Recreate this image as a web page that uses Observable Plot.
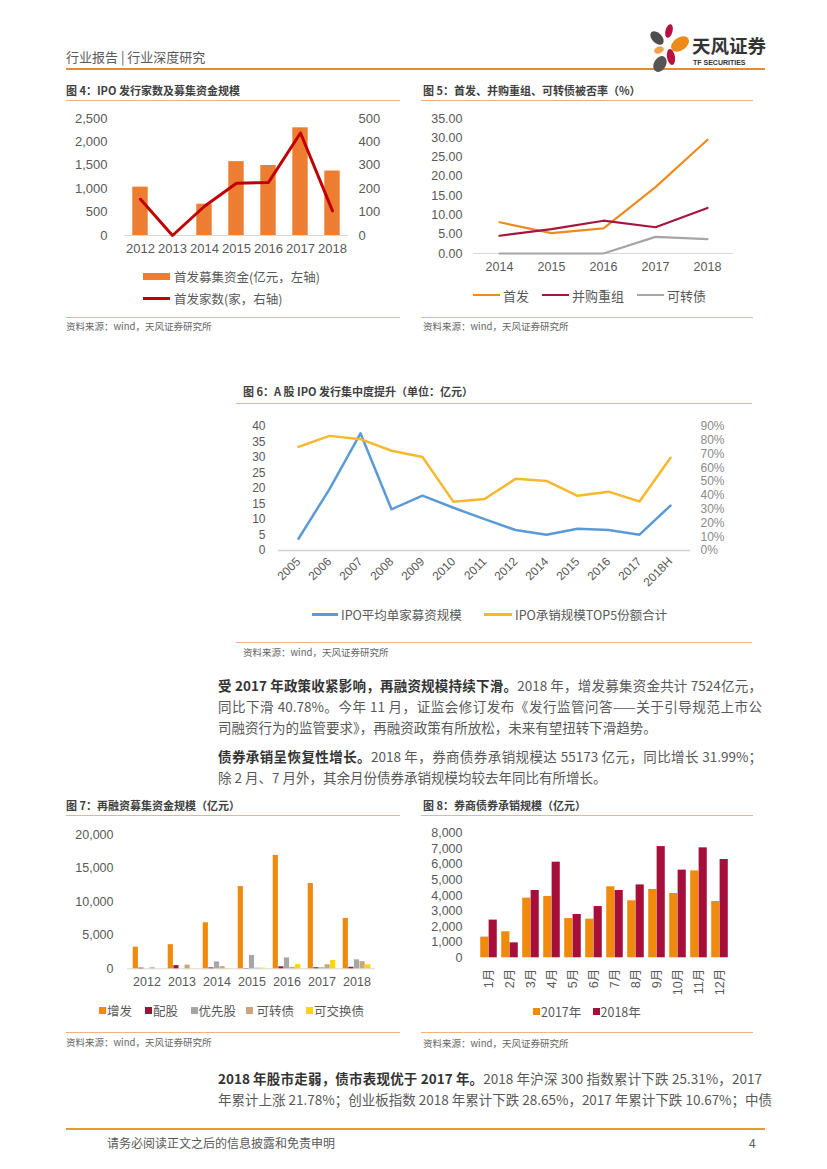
<!DOCTYPE html>
<html><head><meta charset="utf-8">
<script src="https://cdn.jsdelivr.net/npm/d3@7"></script>
<script src="https://cdn.jsdelivr.net/npm/@observablehq/plot@0.6"></script>
<style>
body{margin:0;background:#fff;}
#page{position:relative;width:827px;height:1169px;overflow:hidden;background:#fff;font-family:"Noto Sans CJK SC","Liberation Sans",sans-serif;}
.ttl{font-size:11px;font-weight:bold;color:#404040;}
.src{font-size:9.5px;color:#666;}
.p{font-size:13.5px;color:#595959;}
.p b{color:#333;}
.j{width:544px;text-align:justify;text-align-last:justify;}
.lg{font-size:12.5px;color:#595959;}
</style></head><body><div id="page"></div>
<script>
// ---------- data ----------
const years4 = ["2012","2013","2014","2015","2016","2017","2018"];
const ipoFunds4 = [1034, 0, 669, 1578, 1496, 2301, 1378];
const ipoCount4 = [155, 0, 125, 223, 227, 438, 105];

const years5 = ["2014","2015","2016","2017","2018"];
const ipoReject5 = [8.1, 5.3, 6.5, 17.2, 29.5];
const maReject5 = [4.6, 6.3, 8.5, 6.8, 11.8];
const cbReject5 = [0, 0, 0, 4.3, 3.75];
const series5 = ["首发","并购重组","可转债"];

const years6 = ["2005","2006","2007","2008","2009","2010","2011","2012","2014","2015","2016","2017","2018H"];
const avgIpo6 = [3.8, 19.8, 37.8, 13.3, 17.7, 13.8, 10.1, 6.6, 5.1, 7.0, 6.6, 5.1, 14.5];
const top5Share6 = [75.2, 83.2, 80.8, 72.4, 67.9, 35.3, 37.4, 52.0, 50.5, 39.7, 42.7, 35.6, 67.3];
const series6 = ["IPO平均单家募资规模","IPO承销规模TOP5份额合计"];

const years7 = ["2012","2013","2014","2015","2016","2017","2018"];
const types7 = ["增发","配股","优先股","可转债","可交换债"];
const seo7 = [3230, 3600, 6870, 12290, 16920, 12730, 7524];
const rights7 = [100, 475, 138, 42, 298, 162, 228];
const preferred7 = [0, 0, 1030, 1990, 1620, 160, 1340];
const convertible7 = [157, 551, 320, 94, 216, 600, 1071];
const exchangeable7 = [0, 0, 60, 100, 620, 1250, 600];

const months8 = ["1月","2月","3月","4月","5月","6月","7月","8月","9月","10月","11月","12月"];
const bond2017 = [1330, 1670, 3830, 3940, 2520, 2480, 4560, 3660, 4390, 4130, 5580, 3620];
const bond2018 = [2420, 960, 4320, 6140, 2780, 3290, 4320, 4680, 7140, 5630, 7060, 6310];
const series8 = ["2017年","2018年"];

// ---------- helpers ----------
const page = document.getElementById("page");
function el(css, html, cls){ const e=document.createElement("div"); e.style.cssText="position:absolute;"+css; if(cls) e.className=cls; if(html!=null) e.innerHTML=html; page.appendChild(e); return e; }
function hline(x1,x2,y,color,w){ el(`left:${x1}px;top:${y-w/2}px;width:${x2-x1}px;height:${w}px;background:${color};`); }
function text(x,yc,html,cls,css=""){ return el(`left:${x}px;top:${yc-11}px;height:22px;line-height:22px;white-space:nowrap;${css}`, html, cls); }
function rect(x,yc,w,h,color){ el(`left:${x}px;top:${yc-h/2}px;width:${w}px;height:${h}px;background:${color};`); }
function place(svg,x,y){ svg.style.position="absolute"; svg.style.left=x+"px"; svg.style.top=y+"px"; svg.style.maxWidth="none"; page.appendChild(svg); }
const FONT = "'Liberation Sans', Arial, 'Noto Sans CJK SC', sans-serif";
const sty = (fs)=>({fontFamily:FONT, fontSize:fs+"px", color:"#595959", background:"transparent", overflow:"visible"});
const LINE = "#F4B183";

// ---------- header ----------
text(66,57,"行业报告 | 行业深度研究","", "font-size:13px;color:#595959;");
hline(66,765,68.5,"#E98B2B",2);
el("left:636px;top:22px;width:60px;height:52px;", `<svg width="60" height="52" viewBox="636 22 60 52">
<ellipse cx="657" cy="38" rx="5" ry="8" transform="rotate(-45 657 38)" fill="#4d4d4d"/>
<ellipse cx="669" cy="31" rx="3.5" ry="7" transform="rotate(15 669 31)" fill="#B5123F"/>
<ellipse cx="680" cy="44" rx="6.5" ry="10" transform="rotate(55 680 44)" fill="#EE8A1A"/>
<ellipse cx="659" cy="50" rx="3.5" ry="5" transform="rotate(70 659 50)" fill="#F2A24A"/>
<ellipse cx="671" cy="57" rx="4" ry="8" transform="rotate(-10 671 57)" fill="#B5123F"/>
<ellipse cx="660" cy="64" rx="6" ry="8.5" transform="rotate(30 660 64)" fill="#555"/>
</svg>`);
el("left:692px;top:35px;height:20px;line-height:20px;white-space:nowrap;font-size:18.5px;font-weight:bold;color:#333;", "天风证券");
el("left:693px;top:59px;height:8px;line-height:8px;white-space:nowrap;font-size:7px;font-weight:bold;color:#333;font-family:'Liberation Sans',sans-serif;", "TF SECURITIES");

// ---------- chart 4 ----------
text(66,90,"图 4：IPO 发行家数及募集资金规模","ttl");
hline(66,400,100.5,LINE,1);
{
  const data = years4.map((y,i)=>({year:y, funds:ipoFunds4[i], count:ipoCount4[i]}));
  const k = 5;
  const svg = Plot.plot({
    width:334, height:160, marginLeft:58, marginRight:52, marginTop:13, marginBottom:30,
    style: sty(13),
    x:{domain:years4, padding:0},
    y:{domain:[0,2500]},
    marks:[
      Plot.ruleY([0],{stroke:"#d9d9d9"}),
      Plot.barY(data,{x:"year", y:"funds", fill:"#ED7D31", insetLeft:8.3, insetRight:8.3}),
      Plot.line(data,{x:"year", y:d=>d.count*k, stroke:"#C00000", strokeWidth:3}),
      Plot.axisY({ticks:[0,500,1000,1500,2000,2500], tickFormat:d3.format(","), tickSize:0, tickPadding:17, label:null}),
      Plot.axisY({anchor:"right", ticks:[0,500,1000,1500,2000,2500], tickFormat:d=>d/k, tickSize:0, tickPadding:10, label:null}),
      Plot.axisX({tickSize:0, tickPadding:8, label:null})
    ]
  });
  place(svg,66,105);
  rect(143,276,27,7,"#ED7D31");
  text(174,276.5,"首发募集资金(亿元，左轴)","lg");
  rect(143,298,27,3,"#C00000");
  text(174,298.5,"首发家数(家，右轴)","lg");
}
hline(66,400,317,LINE,1);
text(66,326,"资料来源：wind，天风证券研究所","src");

// ---------- chart 5 ----------
text(423,90,"图 5：首发、并购重组、可转债被否率（%）","ttl");
hline(421,753,100.5,LINE,1);
{
  const cols = ["#ED8B1F","#A5163F","#A6A6A6"];
  const vals = [ipoReject5, maReject5, cbReject5];
  const data = series5.flatMap((s,j)=>years5.map((y,i)=>({year:y, s, v:vals[j][i]})));
  const svg = Plot.plot({
    width:336, height:175, marginLeft:57, marginRight:19, marginTop:13, marginBottom:27,
    style: sty(12.5),
    x:{type:"point", domain:years5, padding:0.5},
    y:{domain:[0,35]},
    color:{domain:series5, range:cols},
    marks:[
      Plot.ruleY([0],{stroke:"#d9d9d9"}),
      Plot.line(data,{x:"year", y:"v", z:"s", stroke:"s", strokeWidth:2.2}),
      Plot.axisY({ticks:d3.range(0,36,5), tickFormat:d3.format(".2f"), tickSize:0, tickPadding:11, label:null}),
      Plot.axisX({tickSize:0, tickPadding:9, label:null})
    ]
  });
  place(svg,416,105);
  const lx=[473,542,637], tx=[503,572,667];
  series5.forEach((s,j)=>{ rect(lx[j],295,27,2.5,cols[j]); text(tx[j],295.5,s,"lg","font-size:13px;"); });
}
hline(421,753,317,LINE,1);
text(423,326,"资料来源：wind，天风证券研究所","src");

// ---------- chart 6 ----------
text(243,391,"图 6：A 股 IPO 发行集中度提升（单位：亿元）","ttl");
hline(236,752,403,LINE,1);
{
  const k = 40/90;
  const data = years6.map((y,i)=>({year:y, a:avgIpo6[i], b:top5Share6[i]}));
  const svg = Plot.plot({
    width:516, height:195, marginLeft:42, marginRight:62, marginTop:16, marginBottom:55,
    style: sty(12),
    x:{type:"point", domain:years6, padding:0.5},
    y:{domain:[0,40]},
    marks:[
      Plot.ruleY([0],{stroke:"#d0d0d0", strokeWidth:1.5}),
      Plot.line(data,{x:"year", y:"a", stroke:"#5B9BD5", strokeWidth:2.5}),
      Plot.line(data,{x:"year", y:d=>d.b*k, stroke:"#F5B82E", strokeWidth:2.5}),
      Plot.axisY({ticks:d3.range(0,41,5), tickSize:0, tickPadding:13, label:null}),
      Plot.axisY({anchor:"right", ticks:d3.range(0,91,10).map(p=>p*k), tickFormat:d=>Math.round(d/k)+"%", tickSize:0, tickPadding:10, label:null, color:"#8a8a8a"}),
      Plot.axisX({tickSize:0, tickPadding:9, tickRotate:-45, label:null})
    ]
  });
  place(svg,236,410);
  rect(312,614,26,3,"#5B9BD5");
  text(341,614.5,series6[0],"lg");
  rect(484,614,28,3,"#F5B82E");
  text(515,614.5,series6[1],"lg");
}
hline(236,752,642,LINE,1);
text(243,652,"资料来源：wind，天风证券研究所","src");

// ---------- paragraphs ----------
text(218,685,"<b>受 2017 年政策收紧影响，再融资规模持续下滑。</b>2018 年，增发募集资金共计 7524亿元，","p j");
text(218,706,"同比下滑 40.78%。今年 11 月，证监会修订发布《发行监管问答——关于引导规范上市公","p j");
text(218,727,"司融资行为的监管要求》，再融资政策有所放松，未来有望扭转下滑趋势。","p");
text(218,756,"<b>债券承销呈恢复性增长。</b>2018 年，券商债券承销规模达 55173 亿元，同比增长 31.99%；","p j");
text(218,777,"除 2 月、7 月外，其余月份债券承销规模均较去年同比有所增长。","p");

// ---------- chart 7 ----------
text(66,805,"图 7：再融资募集资金规模（亿元）","ttl");
hline(66,400,815.5,LINE,1);
{
  const cols = ["#F08A0C","#A50F3A","#A6A6A6","#C9A57A","#FFD400"];
  const vals = [seo7, rights7, preferred7, convertible7, exchangeable7];
  const W=334, ml=61, mr=25;
  const step=(W-ml-mr)/years7.length, bw=5.6, inset=(step-bw)/2;
  const marks=[Plot.ruleY([0],{stroke:"#d9d9d9"})];
  types7.forEach((t,j)=>{
    const data = years7.map((y,i)=>({year:y, v:vals[j][i]}));
    marks.push(Plot.barY(data,{x:"year", y:"v", fill:cols[j], insetLeft:inset, insetRight:inset, dx:(j-2)*bw}));
  });
  marks.push(Plot.axisY({ticks:d3.range(0,20001,5000), tickFormat:d3.format(","), tickSize:0, tickPadding:14, label:null}));
  marks.push(Plot.axisX({tickSize:0, tickPadding:8, label:null}));
  const svg = Plot.plot({
    width:W, height:180, marginLeft:ml, marginRight:mr, marginTop:14.3, marginBottom:31.7,
    style: sty(12.5),
    x:{domain:years7, padding:0},
    y:{domain:[0,20000]},
    marks
  });
  place(svg,66,820);
  const sx=[99,145,191,246,306], tx=[107,153,198.5,256.5,314];
  types7.forEach((t,j)=>{ rect(sx[j],1010.5,7,7,cols[j]); text(tx[j],1011,t,"lg"); });
}
hline(66,400,1032,LINE,1);
text(66,1042,"资料来源：wind，天风证券研究所","src");

// ---------- chart 8 ----------
text(423,805,"图 8：券商债券承销规模（亿元）","ttl");
hline(421,753,815.5,LINE,1);
{
  const cols = ["#F08A0C","#A50F3A"];
  const vals = [bond2017, bond2018];
  const W=336, ml=60, mr=21;
  const step=(W-ml-mr)/months8.length, bw=8.4, inset=(step-bw)/2;
  const marks=[];
  series8.forEach((s,j)=>{
    const data = months8.map((m,i)=>({m, v:vals[j][i]}));
    marks.push(Plot.barY(data,{x:"m", y:"v", fill:cols[j], insetLeft:inset, insetRight:inset, dx:(j-0.5)*bw}));
  });
  marks.push(Plot.axisY({ticks:d3.range(0,8001,1000), tickFormat:d3.format(","), tickSize:0, tickPadding:14, label:null}));
  marks.push(Plot.axisX({tickSize:0, tickPadding:11, tickRotate:-90, label:null}));
  const svg = Plot.plot({
    width:W, height:180, marginLeft:ml, marginRight:mr, marginTop:12.7, marginBottom:42.7,
    style: sty(12.5),
    x:{domain:months8, padding:0},
    y:{domain:[0,8000]},
    marks
  });
  place(svg,416,820);
  rect(533,1011.5,7,7,cols[0]); text(541,1012,series8[0],"lg");
  rect(592.5,1011.5,7,7,cols[1]); text(600.5,1012,series8[1],"lg");
}
hline(421,753,1032,LINE,1);
text(423,1043,"资料来源：wind，天风证券研究所","src");

// ---------- bottom paragraph & footer ----------
text(218,1078,"<b>2018 年股市走弱，债市表现优于 2017 年。</b>2018 年沪深 300 指数累计下跌 25.31%，2017","p j");
text(218,1099,"年累计上涨 21.78%；创业板指数 2018 年累计下跌 28.65%，2017 年累计下跌 10.67%；中债","p j");
hline(66,765,1129,"#E99A2E",2);
text(107,1143,"请务必阅读正文之后的信息披露和免责申明","", "font-size:12px;color:#595959;");
text(749,1143,"4","", "font-size:12px;color:#595959;");
</script></body></html>
